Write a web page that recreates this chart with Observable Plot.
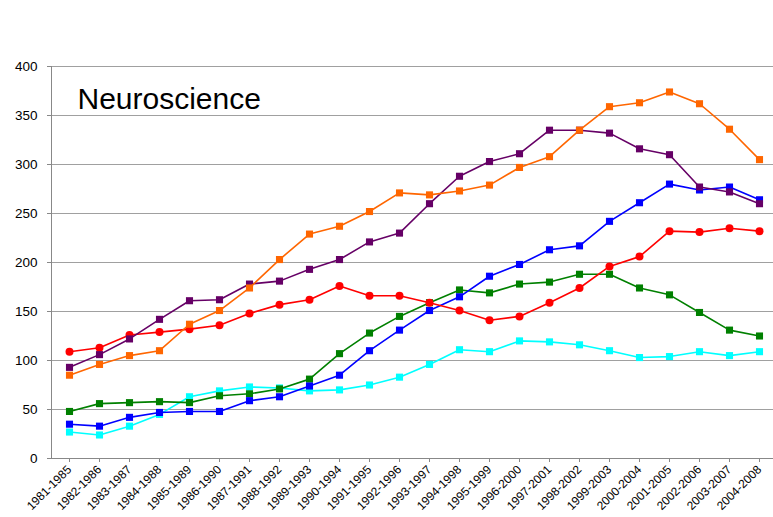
<!DOCTYPE html>
<html>
<head>
<meta charset="utf-8">
<script src="https://cdn.jsdelivr.net/npm/d3@7"></script>
<script src="https://cdn.jsdelivr.net/npm/@observablehq/plot@0.6"></script>
<style>
  html, body { margin: 0; padding: 0; background: #fff; overflow: hidden; }
  #chart { width: 773px; height: 517px; }
</style>
</head>
<body>
<div id="chart"></div>
<script>
const title = "Neuroscience";
const categories = ["1981-1985","1982-1986","1983-1987","1984-1988","1985-1989","1986-1990","1987-1991","1988-1992","1989-1993","1990-1994","1991-1995","1992-1996","1993-1997","1994-1998","1995-1999","1996-2000","1997-2001","1998-2002","1999-2003","2000-2004","2001-2005","2002-2006","2003-2007","2004-2008"];
const yTicks = [0, 50, 100, 150, 200, 250, 300, 350, 400];

const orangeValues = [85,96,105,110,137,151,174,203,229,237,252,271,269,273,279,297,308,335,359,363,374,362,336,305];
const purpleValues = [93,106,122,142,161,162,178,181,193,203,221,230,260,288,303,311,335,335,332,316,310,277,272,260];
const redValues    = [109,113,126,129,132,136,148,157,162,176,166,166,159,151,141,145,159,174,196,206,232,231,235,232];
const greenValues  = [48,56,57,58,57,64,66,71,81,107,128,145,159,172,169,178,180,188,188,174,167,149,131,125];
const blueValues   = [35,33,42,47,48,48,59,63,74,85,110,131,151,165,186,198,213,217,242,261,280,274,277,264];
const cyanValues   = [27,24,33,45,63,69,73,72,69,70,75,83,96,111,109,120,119,116,110,103,104,109,105,109];

const series = [
  {name: "cyan",   values: cyanValues,   color: "#00FFFF", symbol: "square"},
  {name: "green",  values: greenValues,  color: "#008000", symbol: "square"},
  {name: "blue",   values: blueValues,   color: "#0000FF", symbol: "square"},
  {name: "red",    values: redValues,    color: "#FF0000", symbol: "circle"},
  {name: "purple", values: purpleValues, color: "#660066", symbol: "square"},
  {name: "orange", values: orangeValues, color: "#FF6600", symbol: "square"}
];

const font = "Liberation Sans, Arial, sans-serif";
const marks = [
  Plot.gridY(yTicks, {stroke: "#a0a0a0", strokeOpacity: 1, strokeWidth: 1}),
  Plot.axisY(yTicks, {tickSize: 4, tickPadding: 10, fontSize: 13.5, stroke: "#888", fill: "#000", fontFamily: font}),
  Plot.axisX(categories, {tickSize: 4, tickPadding: 5, tickRotate: -45, fontSize: 12, stroke: "#888", fill: "#000", fontFamily: font}),
  Plot.frame({anchor: "left", stroke: "#888"}),
  Plot.frame({anchor: "bottom", stroke: "#888"}),
  Plot.text([title], {frameAnchor: "top-left", dx: 26, dy: 21, text: d => d, fontSize: 30, fill: "#000", textAnchor: "start", lineAnchor: "top", fontFamily: font})
];

for (const s of series) {
  const rows = categories.map((c, i) => ({cat: c, value: s.values[i]}));
  marks.push(Plot.line(rows, {x: "cat", y: "value", stroke: s.color, strokeWidth: 1.6}));
  marks.push(Plot.dot(rows, {x: "cat", y: "value", fill: s.color, stroke: null, symbol: s.symbol, r: 4}));
}

const chart = Plot.plot({
  width: 773,
  height: 517,
  marginLeft: 51,
  marginRight: 0,
  marginTop: 66,
  marginBottom: 59,
  style: {background: "#fff", overflow: "visible"},
  x: {type: "point", domain: categories, range: [51, 776], padding: 0.5, label: null},
  y: {domain: [0, 400], range: [458, 66], label: null},
  marks
});
document.getElementById("chart").appendChild(chart);
</script>
</body>
</html>
